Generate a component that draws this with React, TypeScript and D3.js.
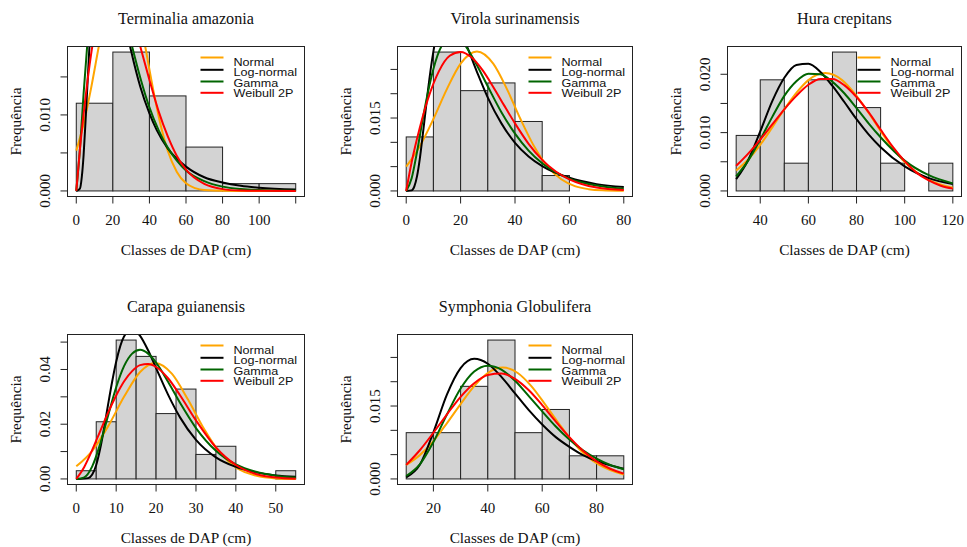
import React from 'react';
import * as d3 from 'd3';

type Pt = [number, number];

// ---- Terminalia amazonia
const terminaliaBreaks = [0, 20, 40, 60, 80, 100, 120];
const terminaliaDensity = [0.01154, 0.01827, 0.0125, 0.00577, 0.00096, 0.00096];
const terminaliaNormal: Pt[] = [[0, 0.0053], [4, 0.0088], [8, 0.0134], [12, 0.0186], [16, 0.0237], [20, 0.0276], [25, 0.0296], [30, 0.0276], [34, 0.0237], [38, 0.0186], [42, 0.0134], [46, 0.0088], [50, 0.0053], [55, 0.0025], [60, 0.001], [65, 0.00037], [70, 0.00011], [80, 0.00001], [100, 0], [120, 0]];
const terminaliaLognormal: Pt[] = [[0, 0], [2, 0.0003], [3, 0.0018], [4, 0.0047], [5, 0.0089], [6, 0.0135], [7, 0.0181], [8, 0.0224], [10, 0.029], [14.5, 0.0342], [20, 0.0303], [25, 0.0241], [30, 0.0184], [35, 0.0137], [40, 0.0102], [44, 0.008], [50, 0.0056], [60, 0.0032], [70, 0.0018], [80, 0.0011], [90, 0.00067], [100, 0.00042], [120, 0.00018]];
const terminaliaGamma: Pt[] = [[0, 0], [2, 0.0055], [4, 0.0128], [6, 0.0192], [8, 0.0242], [12, 0.0298], [16, 0.0307], [20, 0.0288], [25, 0.0244], [30, 0.0195], [35, 0.0149], [40, 0.011], [45, 0.008], [50, 0.0057], [55, 0.004], [60, 0.0027], [70, 0.0013], [80, 0.00057], [90, 0.00025], [100, 0.00011], [120, 0.00002]];
const terminaliaWeibull: Pt[] = [[0, 0], [2, 0.0055], [5, 0.0122], [8, 0.0178], [12, 0.0233], [16, 0.0266], [20, 0.0277], [24, 0.0269], [28, 0.0248], [32, 0.0217], [36, 0.0181], [40, 0.0146], [45, 0.0105], [50, 0.0072], [55, 0.0046], [60, 0.0028], [70, 0.00092], [80, 0.00024], [90, 0.00005], [100, 0.00001], [120, 0]];

// ---- Virola surinamensis
const virolaBreaks = [0, 10, 20, 30, 40, 50, 60];
const virolaDensity = [0.01111, 0.02857, 0.02063, 0.02222, 0.01429, 0.00317];
const virolaNormal: Pt[] = [[0, 0.005], [5, 0.0092], [10, 0.0148], [15, 0.021], [20, 0.0262], [26, 0.0287], [32, 0.0262], [37, 0.021], [42, 0.0148], [47, 0.0092], [52, 0.005], [57, 0.0024], [62, 0.001], [67, 0.00037], [72, 0.00012], [80, 0.00002]];
const virolaLognormal: Pt[] = [[0, 0], [2, 0.00012], [3, 0.00095], [4, 0.0031], [5, 0.0066], [6, 0.0111], [7, 0.0159], [8, 0.0207], [10, 0.0287], [12, 0.0339], [15, 0.0366], [18, 0.0351], [22, 0.0302], [26, 0.0245], [30, 0.0192], [35, 0.0139], [40, 0.0099], [45, 0.0071], [50, 0.0051], [60, 0.0027], [70, 0.0014], [80, 0.00079]];
const virolaGamma: Pt[] = [[0, 0], [2, 0.0026], [4, 0.0081], [6, 0.0145], [8, 0.0203], [10, 0.0251], [13, 0.0298], [17, 0.0318], [21, 0.0304], [25, 0.0269], [30, 0.0215], [35, 0.0162], [40, 0.0118], [45, 0.0083], [50, 0.0057], [55, 0.0038], [60, 0.0025], [70, 0.0011], [80, 0.00043]];
const virolaWeibull: Pt[] = [[0, 0], [2, 0.0059], [5, 0.013], [8, 0.0189], [12, 0.0246], [16, 0.0278], [20, 0.0286], [24, 0.0275], [28, 0.0249], [32, 0.0214], [36, 0.0176], [40, 0.0139], [45, 0.0097], [50, 0.0064], [55, 0.004], [60, 0.0024], [70, 0.0007], [80, 0.00017]];

// ---- Hura crepitans
const huraBreaks = [30, 40, 50, 60, 70, 80, 90, 100, 110, 120];
const huraDensity = [0.00952, 0.01905, 0.00476, 0.01905, 0.02381, 0.01429, 0.00476, 0, 0.00476];
const huraNormal: Pt[] = [[30, 0.0035], [35, 0.0054], [40, 0.0079], [45, 0.0109], [50, 0.014], [55, 0.0168], [60, 0.019], [67, 0.0202], [74, 0.019], [79, 0.0168], [84, 0.014], [89, 0.0109], [94, 0.0079], [99, 0.0054], [104, 0.0035], [110, 0.0019], [120, 0.00055]];
const huraLognormal: Pt[] = [[30, 0.002], [35, 0.0053], [40, 0.0102], [45, 0.0154], [50, 0.0194], [55, 0.0216], [60, 0.0218], [65, 0.0204], [70, 0.018], [75, 0.0152], [80, 0.0123], [85, 0.0097], [90, 0.0075], [100, 0.0042], [110, 0.0022], [120, 0.0012]];
const huraGamma: Pt[] = [[30, 0.0025], [35, 0.0052], [40, 0.0088], [45, 0.0127], [50, 0.0163], [55, 0.0188], [60, 0.0201], [65, 0.02], [70, 0.0187], [75, 0.0167], [80, 0.0142], [85, 0.0116], [90, 0.0092], [100, 0.0052], [110, 0.0027], [120, 0.0013]];
const huraWeibull: Pt[] = [[30, 0.0043], [35, 0.0064], [40, 0.0088], [45, 0.0114], [50, 0.014], [55, 0.0163], [60, 0.0182], [65, 0.0192], [70, 0.0192], [75, 0.0181], [80, 0.0161], [85, 0.0135], [90, 0.0105], [95, 0.0076], [100, 0.0051], [105, 0.0031], [110, 0.0018], [115, 0.0009], [120, 0.0004]];

// ---- Carapa guianensis
const carapaBreaks = [0, 5, 10, 15, 20, 25, 30, 35, 40, 45, 50, 55];
const carapaDensity = [0.003, 0.0209, 0.05075, 0.04478, 0.02388, 0.03284, 0.00896, 0.01194, 0, 0, 0.003];
const carapaNormal: Pt[] = [[0, 0.0046], [4, 0.0103], [8, 0.0193], [12, 0.0301], [16, 0.0391], [19.8, 0.0424], [24, 0.0384], [28, 0.029], [32, 0.0183], [36, 0.0096], [40, 0.0042], [45, 0.0012], [50, 0.0002], [55, 0]];
const carapaLognormal: Pt[] = [[0, 0], [3, 0.0003], [4, 0.0016], [5, 0.0051], [6, 0.0111], [7, 0.0188], [8, 0.0274], [9, 0.0356], [10, 0.0428], [12, 0.0521], [14, 0.0547], [16, 0.0523], [18, 0.047], [20, 0.0405], [23, 0.0308], [26, 0.0225], [30, 0.0143], [35, 0.0079], [40, 0.0044], [45, 0.0024], [50, 0.0013], [55, 0.0008]];
const carapaGamma: Pt[] = [[0, 0], [2, 0.0006], [4, 0.0046], [6, 0.0128], [8, 0.0233], [10, 0.0335], [12, 0.0413], [14, 0.0458], [16, 0.0472], [18, 0.0458], [20, 0.0425], [23, 0.0355], [26, 0.0278], [30, 0.0186], [35, 0.0103], [40, 0.0053], [45, 0.0026], [50, 0.0012], [55, 0.0005]];
const carapaWeibull: Pt[] = [[0, 0], [2, 0.0044], [4, 0.0106], [6, 0.0175], [8, 0.0243], [10, 0.0305], [12, 0.0357], [14, 0.0394], [16, 0.0416], [18, 0.042], [20, 0.0409], [23, 0.0368], [26, 0.0306], [30, 0.0214], [35, 0.0115], [40, 0.0051], [45, 0.0018], [50, 0.0005], [55, 0.0001]];

// ---- Symphonia Globulifera
const symphoniaBreaks = [10, 20, 30, 40, 50, 60, 70, 80, 90];
const symphoniaDensity = [0.00952, 0.00952, 0.01905, 0.02857, 0.00952, 0.01429, 0.00476, 0.00476];
const symphoniaNormal: Pt[] = [[10, 0.0029], [15, 0.0049], [20, 0.0078], [25, 0.0115], [30, 0.0154], [35, 0.0191], [40, 0.0218], [45.5, 0.0229], [51, 0.0218], [56, 0.0191], [61, 0.0154], [66, 0.0115], [71, 0.0078], [76, 0.0049], [81, 0.0029], [90, 0.0009]];
const symphoniaLognormal: Pt[] = [[10, 0.0003], [15, 0.0029], [20, 0.0096], [25, 0.0174], [30, 0.0228], [35, 0.0247], [40, 0.0237], [45, 0.021], [50, 0.0176], [55, 0.0142], [60, 0.0112], [65, 0.0086], [70, 0.0066], [75, 0.0049], [80, 0.0037], [85, 0.0028], [90, 0.0021]];
const symphoniaGamma: Pt[] = [[10, 0.0006], [15, 0.003], [20, 0.0076], [25, 0.0133], [30, 0.0186], [35, 0.0221], [40, 0.0233], [45, 0.0225], [50, 0.0202], [55, 0.0171], [60, 0.0139], [65, 0.0108], [70, 0.0081], [75, 0.0059], [80, 0.0042], [85, 0.0029], [90, 0.002]];
const symphoniaWeibull: Pt[] = [[10, 0.0029], [15, 0.0059], [20, 0.0095], [25, 0.0133], [30, 0.0169], [35, 0.0197], [40, 0.0214], [45, 0.0217], [50, 0.0206], [55, 0.0183], [60, 0.0152], [65, 0.0118], [70, 0.0086], [75, 0.0058], [80, 0.0036], [85, 0.0021], [90, 0.0011]];

const legendLabels = ['Normal', 'Log-normal', 'Gamma', 'Weibull 2P'];
const curveColors = ['#FFA500', '#000000', '#006400', '#FF0000'];

const panels = [
  {
    title: 'Terminalia amazonia', breaks: terminaliaBreaks, density: terminaliaDensity, xlim: [0, 120],
    xTicks: [0, 20, 40, 60, 80, 100, 120], xLabels: [0, 20, 40, 60, 80, 100],
    yTicks: [0, 0.005, 0.01, 0.015], yLabels: [0, 0.01], yFmt: '.3f',
    curves: [terminaliaNormal, terminaliaLognormal, terminaliaGamma, terminaliaWeibull],
    box: { left: 67.5, right: 304.5, top: 46.5, bottom: 196.5 },
  },
  {
    title: 'Virola surinamensis', breaks: virolaBreaks, density: virolaDensity, xlim: [0, 80],
    xTicks: [0, 20, 40, 60, 80], xLabels: [0, 20, 40, 60, 80],
    yTicks: [0, 0.005, 0.01, 0.015, 0.02, 0.025], yLabels: [0, 0.015], yFmt: '.3f',
    curves: [virolaNormal, virolaLognormal, virolaGamma, virolaWeibull],
    box: { left: 397.5, right: 632.5, top: 46.5, bottom: 196.5 },
  },
  {
    title: 'Hura crepitans', breaks: huraBreaks, density: huraDensity, xlim: [30, 120],
    xTicks: [40, 60, 80, 100, 120], xLabels: [40, 60, 80, 100, 120],
    yTicks: [0, 0.005, 0.01, 0.015, 0.02], yLabels: [0, 0.01, 0.02], yFmt: '.3f',
    curves: [huraNormal, huraLognormal, huraGamma, huraWeibull],
    box: { left: 727.5, right: 961.5, top: 46.5, bottom: 196.5 },
  },
  {
    title: 'Carapa guianensis', breaks: carapaBreaks, density: carapaDensity, xlim: [0, 55],
    xTicks: [0, 10, 20, 30, 40, 50], xLabels: [0, 10, 20, 30, 40, 50],
    yTicks: [0, 0.01, 0.02, 0.03, 0.04, 0.05], yLabels: [0, 0.02, 0.04], yFmt: '.2f',
    curves: [carapaNormal, carapaLognormal, carapaGamma, carapaWeibull],
    box: { left: 67.5, right: 304.5, top: 334.5, bottom: 484.5 },
  },
  {
    title: 'Symphonia Globulifera', breaks: symphoniaBreaks, density: symphoniaDensity, xlim: [10, 90],
    xTicks: [20, 40, 60, 80], xLabels: [20, 40, 60, 80],
    yTicks: [0, 0.005, 0.01, 0.015, 0.02, 0.025], yLabels: [0, 0.015], yFmt: '.3f',
    curves: [symphoniaNormal, symphoniaLognormal, symphoniaGamma, symphoniaWeibull],
    box: { left: 397.5, right: 632.5, top: 334.5, bottom: 484.5 },
  },
];

const serif = "'Liberation Serif', 'Times New Roman', serif";
const sans = "'Liberation Sans', Arial, sans-serif";
const ink = '#111';

function Panel({ p, idx }: { p: any; idx: number }) {
  const { left, right, top, bottom } = p.box;
  const [x0, x1] = p.xlim;
  const pad = (x1 - x0) * 0.04;
  const x = d3.scaleLinear().domain([x0 - pad, x1 + pad]).range([left, right]);
  const ymax = d3.max(p.density as number[]) as number;
  const y = d3.scaleLinear().domain([-0.04 * ymax, 1.04 * ymax]).range([bottom, top]);
  const line = d3.line<Pt>().x(d => x(d[0])).y(d => y(d[1])).curve(d3.curveMonotoneX);
  const fmt = d3.format(p.yFmt);
  const clipId = `clip-${idx}`;
  const cx = (left + right) / 2;
  const cy = (top + bottom) / 2;
  const lineOff = [11, 23.3, 35, 46.3];
  const textOff = [19, 29.5, 40, 50.3];

  return (
    <g>
      <defs>
        <clipPath id={clipId}>
          <rect x={left} y={top} width={right - left} height={bottom - top} />
        </clipPath>
      </defs>
      {/* bars */}
      {p.density.map((d: number, i: number) => (
        <rect key={i}
          x={x(p.breaks[i])} y={y(d)}
          width={x(p.breaks[i + 1]) - x(p.breaks[i])} height={y(0) - y(d)}
          fill="#d3d3d3" stroke="#222" strokeWidth={1} />
      ))}
      {/* fitted curves */}
      <g clipPath={`url(#${clipId})`}>
        {p.curves.map((c: Pt[], i: number) => (
          <path key={i} d={line(c) || ''} fill="none" stroke={curveColors[i]}
            strokeWidth={2} strokeLinejoin="round" />
        ))}
      </g>
      {/* box */}
      <rect x={left} y={top} width={right - left} height={bottom - top} fill="none" stroke="#222" strokeWidth={1} />
      {/* x axis */}
      {p.xTicks.map((t: number) => (
        <line key={t} x1={x(t)} x2={x(t)} y1={bottom} y2={bottom + 7} stroke="#222" />
      ))}
      {p.xLabels.map((t: number) => (
        <text key={t} x={x(t)} y={bottom + 28} textAnchor="middle" fontFamily={serif} fontSize={15} fill={ink}>{t}</text>
      ))}
      {/* y axis */}
      {p.yTicks.map((t: number) => (
        <line key={t} x1={left - 7} x2={left} y1={y(t)} y2={y(t)} stroke="#222" />
      ))}
      {p.yLabels.map((t: number) => (
        <text key={t} transform={`translate(${left - 18},${y(t)}) rotate(-90)`} textAnchor="middle"
          fontFamily={serif} fontSize={15} fill={ink}>{fmt(t)}</text>
      ))}
      {/* titles */}
      <text x={cx} y={top - 22.5} textAnchor="middle" fontFamily={serif} fontSize={16.2} fill={ink}>{p.title}</text>
      <text x={cx} y={bottom + 58.5} textAnchor="middle" fontFamily={serif} fontSize={15.3} fill={ink}>Classes de DAP (cm)</text>
      <text transform={`translate(${left - 47},${cy}) rotate(-90)`} textAnchor="middle" fontFamily={serif} fontSize={15.3} fill={ink}>Frequência</text>
      {/* legend */}
      {legendLabels.map((lab, i) => (
        <g key={lab}>
          <line x1={right - 104} x2={right - 81} y1={top + lineOff[i]} y2={top + lineOff[i]} stroke={curveColors[i]} strokeWidth={2} />
          <text transform={`translate(${right - 71},${top + textOff[i]}) scale(1.2,1)`} fontFamily={sans} fontSize={10.5} fill={ink}>{lab}</text>
        </g>
      ))}
    </g>
  );
}

export default function App() {
  return (
    <svg width={967} height={547} style={{ position: 'absolute', left: 0, top: 0, background: '#fff' }}>
      <rect width={967} height={547} fill="#fff" />
      {panels.map((p, i) => <Panel key={p.title} p={p} idx={i} />)}
    </svg>
  );
}
